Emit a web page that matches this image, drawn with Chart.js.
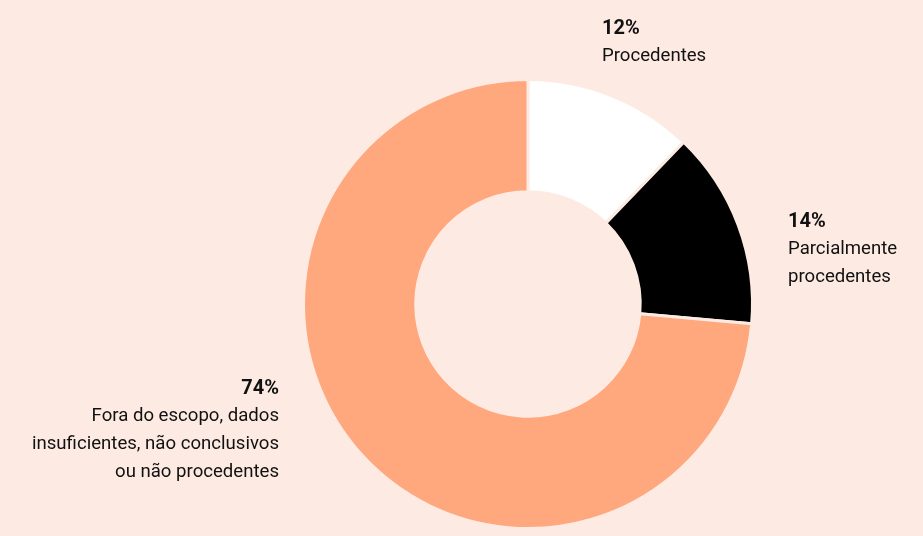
<!DOCTYPE html>
<html>
<head>
<meta charset="utf-8">
<script src="https://cdn.jsdelivr.net/npm/chart.js@4/dist/chart.umd.min.js"></script>
<style>
  html, body { margin: 0; padding: 0; background: #fdebe3; }
  #wrap { position: relative; width: 923px; height: 536px; }
</style>
</head>
<body>
<div id="wrap"><canvas id="donut" width="923" height="536"></canvas></div>
<script>
const categories = [
  ["Procedentes"],
  ["Parcialmente", "procedentes"],
  ["Fora do escopo, dados", "insuficientes, não conclusivos", "ou não procedentes"]
];
const shares = [12.2, 14.2, 73.6];
const sliceColors = ["#ffffff", "#000000", "#ffa77d"];

// label anchor per slice: x, y of the percentage line, alignment
const labelPos = [
  { x: 602, y: 29, align: "left" },
  { x: 788, y: 222, align: "left" },
  { x: 279, y: 389, align: "right" }
];

const labelPlugin = {
  id: 'sliceLabels',
  afterDraw(chart) {
    const ctx = chart.ctx;
    ctx.save();
    ctx.fillStyle = "#111111";
    ctx.textBaseline = "middle";
    shares.forEach((v, i) => {
      const p = labelPos[i];
      ctx.textAlign = p.align;
      ctx.font = "bold 20px Roboto";
      ctx.fillText(Math.round(v) + "%", p.x, p.y);
      ctx.font = "18.6px Roboto";
      categories[i].forEach((line, j) => {
        ctx.fillText(line, p.x, p.y + 28 * (j + 1) - 1);
      });
    });
    ctx.restore();
  }
};

let ctx = document.getElementById('donut').getContext('2d');
let donut = new Chart(ctx, {
  type: 'doughnut',
  data: {
    labels: categories.map(c => c.join(" ")),
    datasets: [{
      data: shares,
      backgroundColor: sliceColors,
      borderColor: "#fdebe3",
      borderWidth: 3,
      hoverOffset: 0
    }]
  },
  options: {
    responsive: false,
    animation: false,
    cutout: "50%",
    layout: { padding: { left: 302, right: 169, top: 78, bottom: 6 } },
    plugins: {
      legend: { display: false },
      tooltip: { enabled: false }
    }
  },
  plugins: [labelPlugin]
});
</script>
</body>
</html>
